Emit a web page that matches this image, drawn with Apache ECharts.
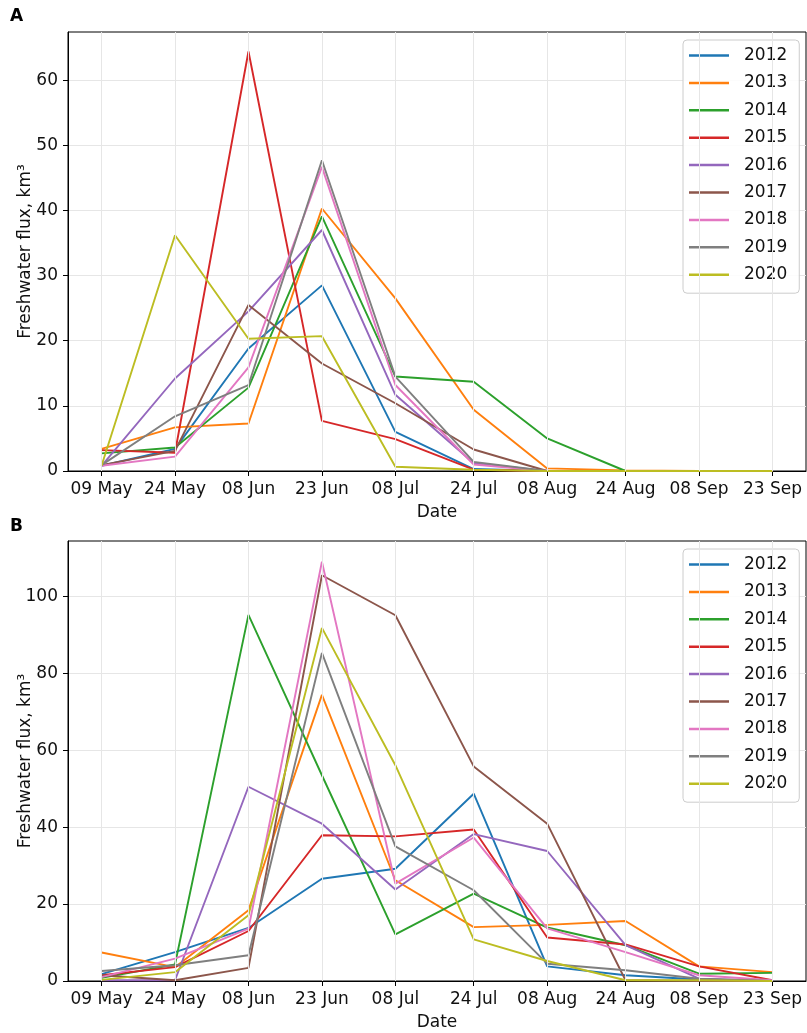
<!DOCTYPE html>
<html>
<head>
<meta charset="utf-8">
<script src="https://cdn.jsdelivr.net/npm/echarts@6/dist/echarts.min.js"></script>
<style>
html,body{margin:0;padding:0;background:#fff;}
#chart{width:807px;height:1033px;}
</style>
</head>
<body>
<div id="chart"></div>
<script>
// Day offsets from 09 May for each date tick / sample
const tickDays = [0, 15, 30, 45, 60, 76, 91, 107, 122, 137];
const tickLabels = ['09 May', '24 May', '08 Jun', '23 Jun', '08 Jul', '24 Jul', '08 Aug', '24 Aug', '08 Sep', '23 Sep'];
const years = ['2012', '2013', '2014', '2015', '2016', '2017', '2018', '2019', '2020'];
const colors = ['#1f77b4', '#ff7f0e', '#2ca02c', '#d62728', '#9467bd', '#8c564b', '#e377c2', '#7f7f7f', '#bcbd22'];

// Panel A values (km³)
const a2012 = [0.8, 3.4, 18.8, 28.5, 6.0, 0.3, 0, 0, 0, 0];
const a2013 = [3.4, 6.7, 7.3, 40.3, 26.5, 9.4, 0.4, 0.1, 0, 0];
const a2014 = [2.7, 3.6, 12.8, 39.1, 14.5, 13.7, 5.0, 0, 0, 0];
const a2015 = [3.2, 2.8, 64.4, 7.7, 4.9, 0.2, 0, 0, 0, 0];
const a2016 = [0.8, 14.2, 24.5, 37.0, 11.7, 1.2, 0, 0, 0, 0];
const a2017 = [0.9, 3.1, 25.5, 16.5, 10.4, 3.3, 0, 0, 0, 0];
const a2018 = [0.8, 2.2, 15.9, 46.7, 13.2, 1.0, 0, 0, 0, 0];
const a2019 = [0.9, 8.4, 13.2, 47.7, 14.5, 1.4, 0, 0, 0, 0];
const a2020 = [0.8, 36.2, 20.3, 20.7, 0.66, 0.2, 0, 0, 0, 0];

// Panel B values (km³)
const b2012 = [1.8, 7.5, 13.8, 26.6, 29.2, 48.7, 3.8, 1.5, 0.4, 0];
const b2013 = [7.4, 3.6, 18.4, 74.4, 26.2, 14.0, 14.6, 15.6, 3.8, 2.3];
const b2014 = [0.8, 4.3, 95.2, 53.5, 12.1, 22.7, 13.9, 9.3, 1.9, 2.1];
const b2015 = [1.5, 3.6, 13.0, 37.9, 37.6, 39.4, 11.3, 9.5, 3.8, 0.2];
const b2016 = [0.2, 0.2, 50.5, 40.9, 23.8, 38.2, 33.8, 9.3, 0.6, 0];
const b2017 = [1.5, 0.2, 3.4, 105.5, 95.1, 55.8, 40.9, 0.2, 0, 0];
const b2018 = [1.0, 5.8, 13.6, 109.0, 25.3, 37.3, 13.7, 7.5, 1.5, 0.2];
const b2019 = [2.6, 4.1, 6.7, 85.3, 35.0, 23.6, 4.5, 2.8, 0.6, 0];
const b2020 = [0.3, 2.3, 17.1, 91.8, 56.1, 10.8, 5.2, 0.2, 0.2, 0];

const yTicksA = [0, 10, 20, 30, 40, 50, 60];
const yTicksB = [0, 20, 40, 60, 80, 100];

const panelA = [a2012, a2013, a2014, a2015, a2016, a2017, a2018, a2019, a2020];
const panelB = [b2012, b2013, b2014, b2015, b2016, b2017, b2018, b2019, b2020];

const FONT = 'DejaVu Sans';
const FS = 17;

function xAxisFor(gi) {
  return {
    type: 'value', gridIndex: gi, min: -6.85, max: 143.85,
    name: 'Date', nameLocation: 'middle', nameGap: 33, nameMoveOverlap: false,
    nameTextStyle: {fontFamily: FONT, fontSize: FS, color: '#111'},
    axisLine: {show: true, onZero: false, lineStyle: {color: '#000', width: 1}},
    axisTick: {show: true, customValues: tickDays, length: 5, lineStyle: {color: '#000'}},
    axisLabel: {customValues: tickDays, margin: 10, fontFamily: FONT, fontSize: FS, color: '#111',
      formatter: v => { const i = tickDays.indexOf(v); return i >= 0 ? tickLabels[i] : ''; }},
    splitLine: {show: false}
  };
}
function yAxisFor(gi, max, ticks) {
  return {
    type: 'value', gridIndex: gi, min: 0, max: max,
    name: 'Freshwater flux, km³', nameLocation: 'middle', nameGap: 34, nameMoveOverlap: false,
    nameTextStyle: {fontFamily: FONT, fontSize: FS, color: '#111'},
    axisLine: {show: true, onZero: false, lineStyle: {color: '#000', width: 1}},
    axisTick: {show: true, customValues: ticks, length: 5, lineStyle: {color: '#000'}},
    axisLabel: {customValues: ticks, margin: 10, fontFamily: FONT, fontSize: FS, color: '#111'},
    splitLine: {show: true, lineStyle: {color: '#e6e6e6', width: 1}}
  };
}

const series = [];
function addGridLines(gi) {
  series.push({
    type: 'line', xAxisIndex: gi, yAxisIndex: gi, data: [], z: 1, silent: true,
    markLine: {symbol: 'none', silent: true, animation: false, label: {show: false},
      lineStyle: {color: '#e6e6e6', type: 'solid', width: 1},
      emphasis: {disabled: true},
      data: tickDays.map(d => ({xAxis: d}))}
  });
}
addGridLines(0);
addGridLines(1);
[panelA, panelB].forEach((panel, gi) => {
  panel.forEach((vals, k) => {
    series.push({
      name: years[k], type: 'line', xAxisIndex: gi, yAxisIndex: gi,
      data: vals.map((v, i) => [tickDays[i], v]),
      symbol: 'none', showSymbol: false, z: 3,
      lineStyle: {color: colors[k], width: 1.9},
      itemStyle: {color: colors[k]},
      emphasis: {disabled: true}, animation: false
    });
  });
});

function legendFor(top) {
  return {
    show: true, orient: 'vertical', left: 683, top: top,
    data: years.map(y => ({name: y, icon: 'rect'})),
    itemWidth: 40, itemHeight: 2.5, itemGap: 10.4,
    padding: [7, 12, 10, 6],
    backgroundColor: 'rgba(255,255,255,0.85)', borderColor: '#cccccc', borderWidth: 1, borderRadius: 4,
    textStyle: {fontFamily: FONT, fontSize: FS, color: '#111', padding: [0, 0, 0, 10]},
    selectedMode: false
  };
}

const chart = echarts.init(document.getElementById('chart'), null, {renderer: 'canvas'});
chart.setOption({
  animation: false,
  color: colors,
  grid: [
    {left: 68, top: 32, right: 1, height: 439, show: true, borderColor: '#000', borderWidth: 1, backgroundColor: 'transparent', outerBoundsMode: 'none', containLabel: false},
    {left: 68, top: 541, right: 1, height: 440, show: true, borderColor: '#000', borderWidth: 1, backgroundColor: 'transparent', outerBoundsMode: 'none', containLabel: false}
  ],
  xAxis: [xAxisFor(0), xAxisFor(1)],
  yAxis: [yAxisFor(0, 67.4, yTicksA), yAxisFor(1, 114.4, yTicksB)],
  legend: [legendFor(40), legendFor(549)],
  graphic: [
    {type: 'text', left: 10, top: 8, style: {text: 'A', fontFamily: FONT, fontWeight: 'bold', fontSize: 17, fill: '#000'}},
    {type: 'text', left: 10, top: 518, style: {text: 'B', fontFamily: FONT, fontWeight: 'bold', fontSize: 17, fill: '#000'}}
  ],
  series: series
});
</script>
</body>
</html>
